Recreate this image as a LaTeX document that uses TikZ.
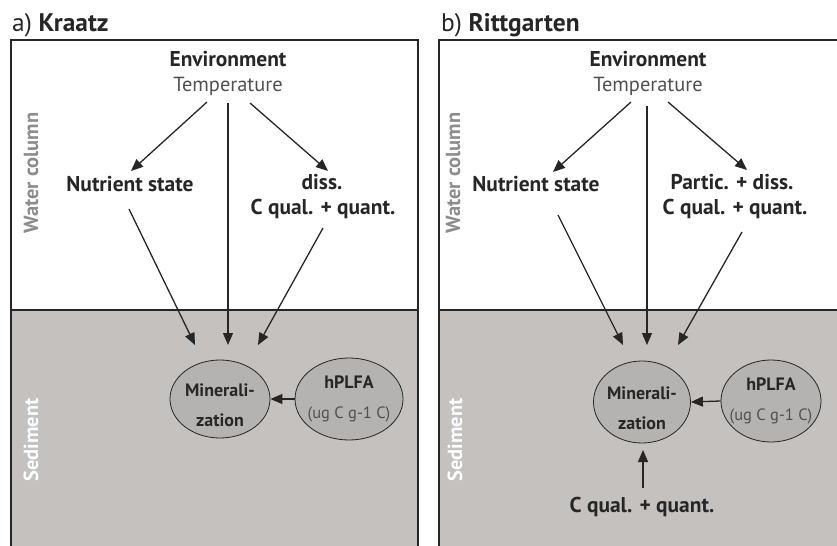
\documentclass[tikz,border=0pt]{standalone}
\usepackage{fontspec}
\setmainfont{PT Sans}
\usetikzlibrary{arrows.meta,shapes.geometric}
\definecolor{sed}{RGB}{196,193,191}
\definecolor{ell}{RGB}{181,179,178}
\definecolor{ink}{RGB}{38,38,38}
\definecolor{wcol}{RGB}{140,140,140}
\definecolor{tempc}{RGB}{80,80,80}
\newcommand{\unitfont}{\fontsize{16.5}{29}\selectfont\mdseries\color{tempc}}
\newcommand{\lowerstrut}{\rule{0pt}{25bp}}
\tikzset{
  lbl/.style={font=\fontsize{21.5}{26}\selectfont\bfseries, text=ink, inner sep=0, anchor=base},
  sublbl/.style={font=\fontsize{20.5}{26}\selectfont, text=tempc, inner sep=0, anchor=base},
  arr/.style={draw=ink, line width=1.3bp, -{Triangle[length=12bp,width=10bp]}},
  bubble/.style={ellipse, draw=ink, line width=0.8bp, fill=ell, inner sep=-10bp,
    align=center, text=ink, font=\fontsize{18}{29.5}\selectfont\bfseries},
  panel/.style={draw=ink, line width=1.5bp},
  side/.style={font=\fontsize{20.5}{20.5}\selectfont\bfseries, rotate=90, inner sep=0},
  ttl/.style={font=\fontsize{25.5}{25.5}\selectfont, anchor=base west, inner sep=0, text=ink}
}
\begin{document}
\begin{tikzpicture}[x=1bp,y=-1bp]
\useasboundingbox (0,0) rectangle (837,546);
\clip (0,0) rectangle (837,546);
\fill[white] (0,0) rectangle (837,546);

% ---------- panel a ----------
\fill[sed] (11,310) rectangle (418,560);
\draw[panel] (11,560) -- (11,40) -- (418,40) -- (418,560);
\draw[panel] (11,310) -- (418,310);
\node[ttl] (ta) at (12,32) {a) \textbf{Kraatz}};
\node[side, text=wcol] (wa) at (31,173) {Water column};
\node[side, text=white] (sa) at (31,440) {Sediment};

\node[lbl] (envA) at (228,67) {Environment};
\node[sublbl] (tempA) at (228,92) {Temperature};
\node[lbl] (nutA) at (130,192) {Nutrient state};
\node[lbl] (dissA) at (322,190) {diss.};
\node[lbl] (cqA) at (323,215) {C qual. + quant.};
\node[bubble, minimum width=100bp, minimum height=78bp] (minA) at (220,399) {\lowerstrut Minerali-\\zation};
\node[bubble, minimum width=108bp, minimum height=82bp] (hplA) at (349,399) {hPLFA\\{\unitfont(ug C g-1 C)}};

\coordinate (a1) at (207,102); \coordinate (a1e) at (131,171);
\coordinate (a2) at (250,103); \coordinate (a2e) at (328,171);
\coordinate (a3) at (228,103); \coordinate (a3e) at (228,345);
\coordinate (a4) at (129,209); \coordinate (a4e) at (195,345);
\coordinate (a5) at (323,228); \coordinate (a5e) at (258,345);
\draw[arr] (a1) -- (a1e);
\draw[arr] (a2) -- (a2e);
\draw[arr] (a3) -- (a3e);
\draw[arr] (a4) -- (a4e);
\draw[arr] (a5) -- (a5e);
\draw[arr] (hplA.west) -- (minA.east);

% ---------- panel b ----------
\fill[sed] (439,310) rectangle (850,560);
\draw[panel] (439,560) -- (439,40) -- (850,40);
\draw[panel] (439,310) -- (850,310);
\node[ttl] (tb) at (441,32) {b) \textbf{Rittgarten}};
\node[side, text=wcol] (wb) at (453,173) {Water column};
\node[side, text=white] (sb) at (455,440) {Sediment};

\node[lbl] (envB) at (648,67) {Environment};
\node[sublbl] (tempB) at (648,92) {Temperature};
\node[lbl] (nutB) at (536,192) {Nutrient state};
\node[lbl] (dissB) at (732,190) {Partic. + diss.};
\node[lbl] (cqB) at (735,215) {C qual. + quant.};
\node[bubble, minimum width=97bp, minimum height=82bp] (minB) at (642,402) {\lowerstrut Minerali-\\zation};
\node[bubble, minimum width=100bp, minimum height=82bp] (hplB) at (771,401) {hPLFA\\{\unitfont(ug C g-1 C)}};
\node[lbl] (cqS) at (642,512) {C qual. + quant.};

\coordinate (b1) at (631,102); \coordinate (b1e) at (553,172);
\coordinate (b2) at (668,102); \coordinate (b2e) at (747,170);
\coordinate (b3) at (647,106); \coordinate (b3e) at (647,345);
\coordinate (b4) at (558,215); \coordinate (b4e) at (623,345);
\coordinate (b5) at (742,232); \coordinate (b5e) at (678,345);
\coordinate (b6) at (643,488); \coordinate (b6e) at (643,450);
\draw[arr] (b1) -- (b1e);
\draw[arr] (b2) -- (b2e);
\draw[arr] (b3) -- (b3e);
\draw[arr] (b4) -- (b4e);
\draw[arr] (b5) -- (b5e);
\draw[arr] (b6) -- (b6e);
\draw[arr] (hplB.west) -- (minB.east);
\end{tikzpicture}
\end{document}
